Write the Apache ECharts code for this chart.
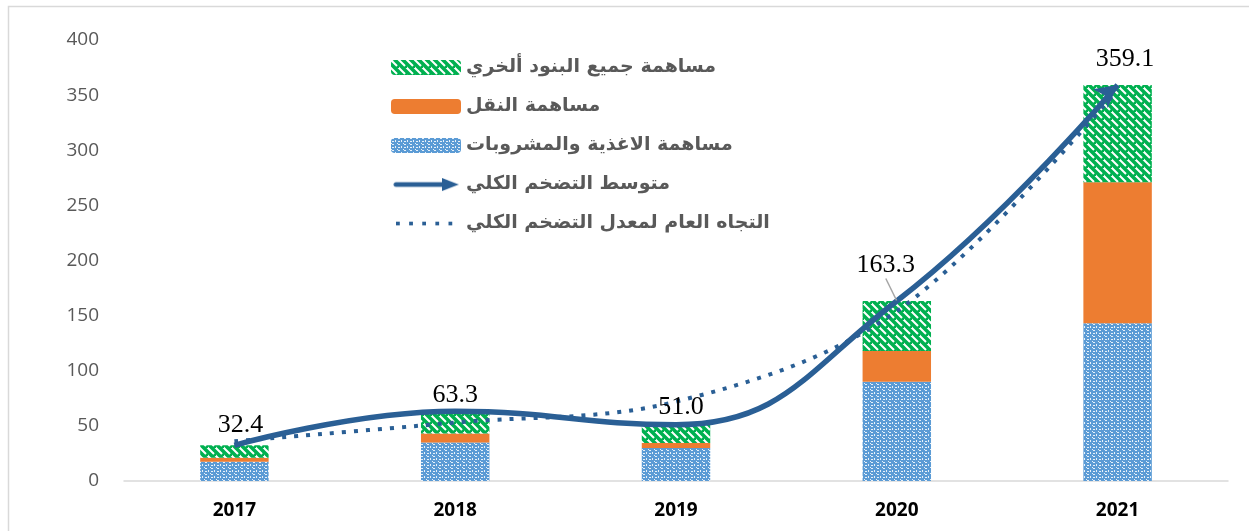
<!DOCTYPE html>
<html>
<head>
<meta charset="utf-8">
<script src="https://cdn.jsdelivr.net/npm/echarts@6/dist/echarts.min.js"></script>
<style>
  html, body { margin: 0; padding: 0; background: #fff; }
  #chart { width: 1249px; height: 531px; }
</style>
</head>
<body>
<div id="chart"></div>
<script>
// البيانات
var years = ['2017', '2018', '2019', '2020', '2021'];
var food = [17.5, 35, 30, 90, 143];        // مساهمة الاغذية والمشروبات
var transport = [3.5, 8, 4.5, 28, 128];    // مساهمة النقل
var others = [11.4, 20.3, 16.5, 45.3, 88.1]; // مساهمة جميع البنود ألخري
var inflation = [32.4, 63.3, 51.0, 163.3, 359.1]; // متوسط التضخم الكلي
var trend = [36, 53, 72, 154, 355];        // الاتجاه العام
var yTicks = [0, 400, 50];

var names = ['مساهمة جميع البنود ألخري', 'مساهمة النقل', 'مساهمة الاغذية والمشروبات', 'متوسط التضخم الكلي', 'التجاه العام لمعدل التضخم الكلي'];
var lineColor = '#2a5f95';

// نقوش الأعمدة
function greenPattern() {
    var c = document.createElement('canvas');
    c.width = 8; c.height = 8;
    var g = c.getContext('2d');
    g.fillStyle = '#00b050';
    g.fillRect(0, 0, 8, 8);
    g.strokeStyle = '#ffffff';
    g.lineWidth = 2;
    g.beginPath();
    g.moveTo(-2, -2); g.lineTo(6, 6);
    g.moveTo(2, -6); g.lineTo(10, 2);
    g.moveTo(-6, 2); g.lineTo(2, 10);
    g.stroke();
    return c;
}
function bluePattern() {
    var c = document.createElement('canvas');
    c.width = 6; c.height = 6;
    var g = c.getContext('2d');
    g.fillStyle = '#5b9bd5';
    g.fillRect(0, 0, 6, 6);
    g.fillStyle = 'rgba(255,255,255,0.85)';
    g.fillRect(1, 0, 2, 1);
    g.fillRect(4, 2, 1, 2);
    g.fillRect(1, 3, 2, 1);
    g.fillRect(0, 5, 1, 1);
    return c;
}
function arrowIcon() {
    var c = document.createElement('canvas');
    c.width = 70; c.height = 16;
    var g = c.getContext('2d');
    g.fillStyle = lineColor;
    g.strokeStyle = lineColor;
    g.lineWidth = 5;
    g.lineCap = 'round';
    g.beginPath(); g.moveTo(3, 8); g.lineTo(56, 8); g.stroke();
    g.beginPath(); g.moveTo(52, 1); g.lineTo(70, 8); g.lineTo(52, 15); g.closePath(); g.fill();
    return c.toDataURL();
}
function dotIcon() {
    var c = document.createElement('canvas');
    c.width = 70; c.height = 16;
    var g = c.getContext('2d');
    g.fillStyle = lineColor;
    for (var i = 0; i < 5; i++) g.fillRect(3 + i * 14, 6, 4, 4);
    return c.toDataURL();
}

var chart = echarts.init(document.getElementById('chart'));

// ازاحة تسميات القيم
var labelShift = [[6, -2], [0, 2], [5, 1], [-11, -17], [16, 2]];
var lineData = inflation.map(function (v, i) {
    var item = { value: v };
    if (i === inflation.length - 1) {
        item.symbol = 'arrow';
        item.symbolSize = [18, 22];
        item.symbolRotate = -52;
    }
    if (i === 3) item.labelLine = { show: true, lineStyle: { color: '#a6a6a6', width: 1.5 } };
    return item;
});

var option = {
    animation: false,
    graphic: [{
        type: 'rect', left: 6, top: 4,
        shape: { width: 1300, height: 600 },
        style: { fill: 'none', stroke: '#d9d9d9', lineWidth: 1.5 },
        silent: true
    }],
    grid: { left: 124, right: 21, top: 40, bottom: 50 },
    legend: {
        orient: 'vertical',
        left: 386,
        top: 53,
        itemWidth: 70,
        itemHeight: 15,
        itemGap: 20,
        textStyle: { fontFamily: 'DejaVu Sans', fontWeight: 'bold', fontSize: 19, color: '#595959' },
        data: [
            { name: names[0] },
            { name: names[1] },
            { name: names[2] },
            { name: names[3], icon: 'image://' + arrowIcon() },
            { name: names[4], icon: 'image://' + dotIcon() }
        ]
    },
    xAxis: {
        type: 'category',
        data: years,
        axisTick: { show: false },
        axisLine: { lineStyle: { color: '#d9d9d9', width: 1.5 } },
        axisLabel: { color: '#000', fontWeight: 'bold', fontSize: 19, fontFamily: 'Open Sans', margin: 20 }
    },
    yAxis: {
        type: 'value',
        min: yTicks[0],
        max: yTicks[1],
        interval: yTicks[2],
        splitLine: { show: false },
        axisLine: { show: false },
        axisTick: { show: false },
        axisLabel: { color: '#595959', fontSize: 19, fontFamily: 'Open Sans', margin: 25 }
    },
    series: [
        {
            name: names[2], type: 'bar', stack: 'total', barWidth: '31%',
            itemStyle: { color: { image: bluePattern(), repeat: 'repeat' } },
            data: food
        },
        {
            name: names[1], type: 'bar', stack: 'total',
            itemStyle: { color: '#ed7d31' },
            data: transport
        },
        {
            name: names[0], type: 'bar', stack: 'total',
            itemStyle: { color: { image: greenPattern(), repeat: 'repeat' } },
            data: others
        },
        {
            name: names[4], type: 'line', smooth: 0.35,
            symbol: 'none',
            lineStyle: { color: lineColor, width: 4, type: [4, 8] },
            itemStyle: { color: lineColor },
            data: trend,
            z: 3
        },
        {
            name: names[3], type: 'line', smooth: 0.45,
            symbol: 'circle', symbolSize: 1, showSymbol: true,
            lineStyle: { color: lineColor, width: 5.5 },
            itemStyle: { color: lineColor },
            labelLayout: function (p) {
                var s = labelShift[p.dataIndex];
                return { dx: s[0], dy: s[1], hideOverlap: false };
            },
            label: {
                show: true, position: 'top', distance: 5,
                fontFamily: 'Liberation Serif', fontSize: 26, color: '#000',
                formatter: function (p) { return p.value.toFixed(1); }
            },
            data: lineData,
            z: 4
        }
    ]
};
chart.setOption(option);
</script>
</body>
</html>
